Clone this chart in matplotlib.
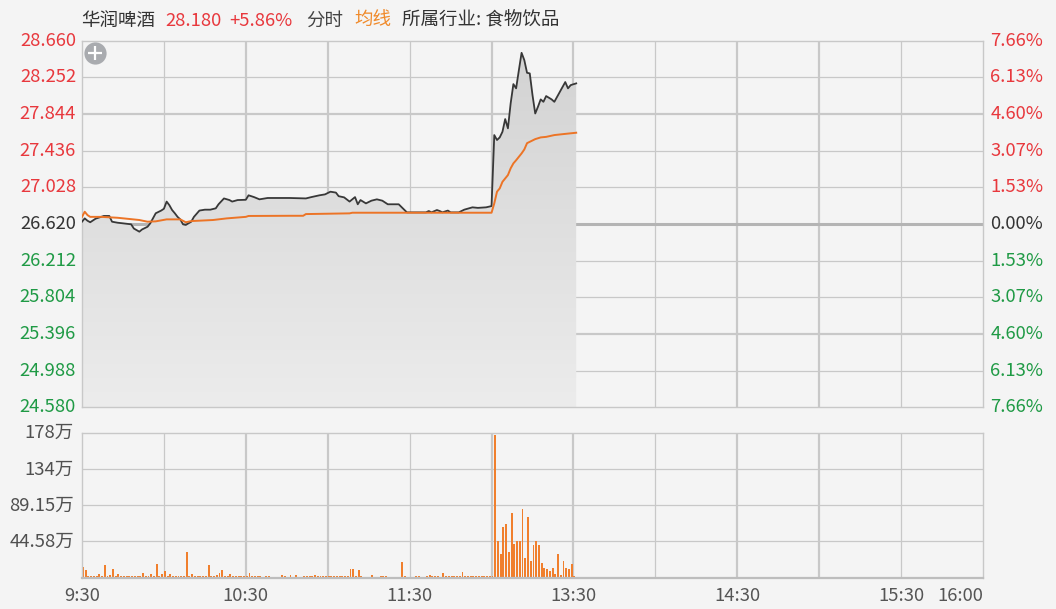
import matplotlib
matplotlib.use("Agg")
import matplotlib.pyplot as plt
import numpy as np
from matplotlib.colors import LinearSegmentedColormap
from matplotlib.patches import Polygon

plt.rcParams['font.family'] = ['Noto Sans CJK SC', 'DejaVu Sans']

# minutes from 9:30 on the trading clock (12:00 and 13:00 share one slot, 16:00 = 330)
price_min = [0, 1, 2, 3, 4, 5, 7, 8, 10, 11, 13, 15, 18, 19, 21, 22, 24, 25, 27, 29,
             30, 31, 32, 33, 34, 35, 36, 37, 38, 40, 41, 43, 45, 47, 49, 50, 52, 54, 55, 57,
             60, 61, 63, 65, 68, 76, 82, 84, 87, 89, 91, 93, 94, 96, 98, 100, 101, 102, 104, 106,
             108, 110, 112, 116, 117, 119, 126, 127, 128, 130, 131, 132, 134, 135, 138, 140, 143, 145, 148, 150,
             151, 152, 153, 154, 155, 156, 157, 158, 159, 160, 161, 162, 163, 164, 165, 166, 167, 168, 169, 170,
             172, 173, 175, 177, 178, 179, 181]
price = [26.646, 26.683, 26.657, 26.640, 26.660, 26.680, 26.700, 26.710, 26.710, 26.646, 26.635, 26.628, 26.617, 26.570, 26.535, 26.560, 26.590, 26.628, 26.740, 26.770,
         26.790, 26.870, 26.830, 26.776, 26.740, 26.700, 26.672, 26.617, 26.610, 26.646, 26.700, 26.770, 26.780, 26.780, 26.795, 26.840, 26.905, 26.887, 26.870, 26.887,
         26.890, 26.940, 26.920, 26.895, 26.910, 26.910, 26.905, 26.920, 26.940, 26.950, 26.980, 26.970, 26.930, 26.917, 26.870, 26.920, 26.840, 26.887, 26.850, 26.880,
         26.895, 26.880, 26.840, 26.840, 26.810, 26.750, 26.750, 26.765, 26.750, 26.776, 26.765, 26.750, 26.770, 26.750, 26.750, 26.780, 26.806, 26.800, 26.806, 26.820,
         27.610, 27.555, 27.584, 27.647, 27.788, 27.685, 27.963, 28.177, 28.130, 28.330, 28.525, 28.444, 28.303, 28.296, 28.055, 27.850, 27.925, 28.007, 27.980, 28.044,
         28.007, 27.980, 28.090, 28.200, 28.130, 28.166, 28.185]

avg_min = [0, 1, 2, 3, 7, 13, 21, 24, 27, 31, 36, 38, 40, 48, 53, 60, 61, 76, 81, 82,
           98, 99, 150, 151, 152, 153, 154, 156, 157, 158, 159, 161, 162, 163, 164, 166, 168, 170, 173, 176,
           181]
avg = [26.700, 26.757, 26.720, 26.700, 26.700, 26.690, 26.665, 26.646, 26.650, 26.672, 26.672, 26.640, 26.653, 26.665, 26.683, 26.700, 26.710, 26.712, 26.712, 26.731,
       26.739, 26.746, 26.746, 26.850, 26.980, 27.017, 27.090, 27.165, 27.240, 27.295, 27.330, 27.406, 27.450, 27.520, 27.535, 27.565, 27.584, 27.590, 27.610, 27.620,
       27.636]

# volume per minute in 万 shares, from 9:30
vol = [13, 9, 1.5, 1.5, 1.5, 1.5, 4, 1.5, 15, 1.5, 3, 11, 1.5, 4, 1.5, 1.5, 1.5, 1.5, 1.5, 1.5,
       1.5, 1.5, 6, 1.5, 1.5, 4, 1.5, 17, 1.5, 4, 8, 1.5, 4, 1.5, 1.5, 1.5, 1.5, 1.5, 32, 1.5,
       4, 1.5, 1.5, 1.5, 1.5, 1.5, 15, 1.5, 1.5, 3, 6, 9, 1.5, 1.5, 4, 1.5, 1.5, 1.5, 1.5, 1.5,
       1.5, 6, 1.5, 1.5, 1.5, 1.5, 0, 1.5, 1.5, 0, 0, 0, 0, 3.3, 1.5, 0, 3, 0, 3, 0,
       0, 1.5, 1.5, 1.5, 1.5, 2.5, 1.5, 1.5, 1.5, 1.5, 1.5, 1.5, 1.5, 1.5, 1.5, 1.5, 1.5, 1.5, 10, 10,
       1.5, 8.7, 1.5, 0, 0, 0, 2.5, 0, 0, 1.5, 1.5, 1.5, 0, 0, 0, 0, 0, 18.6, 1.5, 0,
       0, 0, 1.5, 1.5, 0, 0, 1.5, 2.5, 1.5, 1.5, 1.5, 0, 5, 1.5, 1.5, 1.5, 1.5, 1.5, 1.5, 7.4,
       1.5, 1.5, 1.5, 1.5, 1.5, 1.5, 1.5, 1.5, 1.5, 1.5, 1.5,
       176, 44.6, 29, 63, 66, 31, 80, 42, 45, 45, 85, 24, 75, 20, 40, 45, 40, 18, 12, 10,
       7.5, 12, 4, 29, 3, 20, 12, 10, 17, 1.5]

pre_close = 26.620
price_ticks = [28.660, 28.252, 27.844, 27.436, 27.028, 26.620, 26.212, 25.804, 25.396, 24.988, 24.580]
pct_labels = ['7.66%', '6.13%', '4.60%', '3.07%', '1.53%', '0.00%', '1.53%', '3.07%', '4.60%', '6.13%', '7.66%']
vol_ticks = [44.58, 89.15, 133.74, 178.32]
vol_labels = ['44.58万', '89.15万', '134万', '178万']
time_ticks = [0, 60, 120, 180, 240, 300, 330]
time_labels = ['9:30', '10:30', '11:30', '13:30', '14:30', '15:30', '16:00']

RED, GREEN, DARK = '#e8383d', '#1f9a45', '#333333'
GRID = '#c8c8c8'
BG = '#f4f4f4'
FS = 13.3

W, H = 1056, 609
def box(l, t, r, b):
    return [l / W, 1 - b / H, (r - l) / W, (b - t) / H]

fig = plt.figure(figsize=(W / 100, H / 100), dpi=100, facecolor=BG)
ax = fig.add_axes(box(82, 40.7, 983, 407.4), facecolor=BG)
axv = fig.add_axes(box(82, 433.3, 983, 577.5), facecolor=BG)

ymin, ymax = price_ticks[-1], price_ticks[0]
for a in (ax, axv):
    a.set_xlim(0, 330)
    a.set_xticks([]); a.set_yticks([])
    for s in a.spines.values():
        s.set_color(GRID); s.set_linewidth(1)
    for i, t in enumerate(range(30, 330, 30)):
        a.axvline(t, color=GRID, lw=1.6 if i + 1 in (2, 3, 5, 6, 8, 9) else 0.9, zorder=0)
axv.spines['bottom'].set_linewidth(1.6); axv.spines['bottom'].set_color('#bdbdbd')

# price panel grid
for i, v in enumerate(price_ticks[1:-1], start=1):
    if i == 5:
        ax.axhline(v, color='#b4b4b4', lw=2.2, zorder=0.5)
    else:
        ax.axhline(v, color=GRID, lw=1.6 if i in (2, 8) else 0.9, zorder=0)

# gradient area under the price line
cmap = LinearSegmentedColormap.from_list('area', ['#ececec', '#d2d2d2'])
im = ax.imshow(np.linspace(0, 1, 256).reshape(-1, 1), extent=[0, price_min[-1], ymin, ymax],
               origin='lower', cmap=cmap, aspect='auto', zorder=1)
verts = [(price_min[0], ymin)] + list(zip(price_min, price)) + [(price_min[-1], ymin)]
clip = Polygon(verts, closed=True, fc='none', ec='none', transform=ax.transData)
ax.add_patch(clip)
im.set_clip_path(clip)

ax.plot(price_min, price, color='#383838', lw=1.3, zorder=3)
ax.plot(avg_min, avg, color='#ec7426', lw=1.4, zorder=3)
ax.set_xlim(0, 330); ax.set_ylim(ymin, ymax)

# zoom icon
ax.plot([0.0144], [0.966], marker='o', ms=16, color='#a9abaf', mec='none', transform=ax.transAxes, zorder=5)
ax.plot([0.0144], [0.966], marker='+', ms=10, mew=1.6, color='white', transform=ax.transAxes, zorder=6)

for i, (v, lab) in enumerate(zip(price_ticks, pct_labels)):
    c = RED if v > pre_close + 1e-6 else (GREEN if v < pre_close - 1e-6 else DARK)
    ax.text(-0.0067, v, f'{v:.3f}', transform=ax.get_yaxis_transform(), ha='right', va='center',
            color=c, fontsize=FS)
    ax.text(1.008, v, lab, transform=ax.get_yaxis_transform(), ha='left', va='center',
            color=c, fontsize=FS)

# volume panel
for v in vol_ticks[:-1]:
    axv.axhline(v, color=GRID, lw=0.9, zorder=0)
axv.bar(np.arange(len(vol)) + 0.35, vol, width=0.7, color='#f07f2d', zorder=2)
axv.set_ylim(0, vol_ticks[-1])
for v, lab in zip(vol_ticks, vol_labels):
    axv.text(-0.0089, v, lab, transform=axv.get_yaxis_transform(), ha='right', va='center',
             color='#505050', fontsize=FS)
for t, lab in zip(time_ticks, time_labels):
    axv.text(t, -0.13, lab, transform=axv.get_xaxis_transform(), va='center',
             ha='right' if t == 330 else 'center', color='#555555', fontsize=FS)

# header
y_head = 1 - 21 / H
for x, s, c in [(81, '华润啤酒', DARK), (165, '28.180', RED), (229, '+5.86%', RED),
                (306, '分时', '#444444'), (354, '均线', '#f08a2a'), (402, '所属行业: 食物饮品', DARK)]:
    fig.text(x / W, y_head, s, color=c, fontsize=FS, ha='left', va='center')

fig.savefig('out.png', dpi=100, facecolor=BG)
